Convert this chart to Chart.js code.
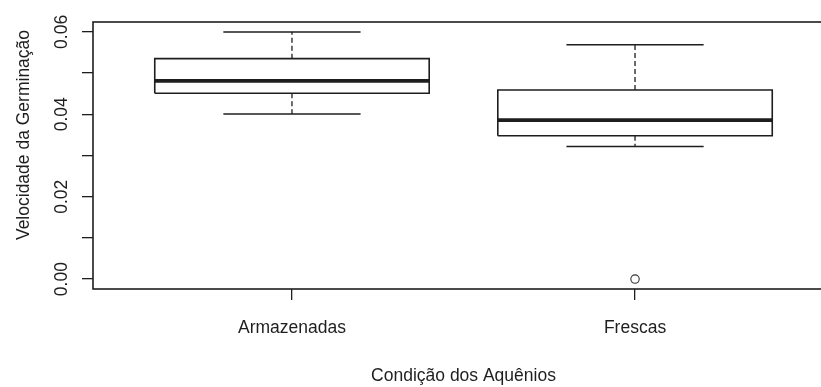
<!DOCTYPE html>
<html>
<head>
<meta charset="utf-8">
<script src="https://cdn.jsdelivr.net/npm/chart.js@4.4.1/dist/chart.umd.min.js"></script>
<style>
  html, body { margin: 0; padding: 0; background: #ffffff; overflow: hidden; }
  #wrap { width: 840px; height: 387px; }
</style>
</head>
<body>
<div id="wrap"><canvas id="c" width="840" height="387"></canvas></div>
<script>
// Germination speed by achene condition (box-and-whisker summary)
const categories = ['Armazenadas', 'Frescas'];
const lowerWhisker = [0.0401, 0.0322];
const q1 = [0.0451, 0.0348];
const median = [0.0481, 0.0386];
const q3 = [0.0535, 0.0459];
const upperWhisker = [0.0600, 0.0569];
const outliers = [[], [0.0]];

const yTickValues = [0, 0.01, 0.02, 0.03, 0.04, 0.05, 0.06];
const yTickLabels = ['0.00', '', '0.02', '', '0.04', '', '0.06'];

const xTitle = 'Condição dos Aquênios';
const yTitle = 'Velocidade da Germinação';

const INK = '#1e1e1e';
const FONT = "'Liberation Sans', Arial, sans-serif";
const FONT_SIZE = 17.5;
const BOX_HALF = 0.4;
const CAP_HALF = 0.2;

function seg(points, extra) {
  return Object.assign({
    data: points,
    showLine: true,
    borderColor: INK,
    borderWidth: 1.5,
    pointRadius: 0,
    pointHoverRadius: 0,
    tension: 0,
    fill: false,
    borderJoinStyle: 'miter',
    borderCapStyle: 'butt'
  }, extra || {});
}

const datasets = [];
categories.forEach((name, i) => {
  const x = i + 1;
  // whiskers (dashed) from box edges to extremes
  datasets.push(seg([{x: x, y: q3[i]}, {x: x, y: upperWhisker[i]}], {borderDash: [5, 3], borderWidth: 1.3}));
  datasets.push(seg([{x: x, y: q1[i]}, {x: x, y: lowerWhisker[i]}], {borderDash: [5, 3], borderWidth: 1.3}));
  // staples
  datasets.push(seg([{x: x - CAP_HALF, y: upperWhisker[i]}, {x: x + CAP_HALF, y: upperWhisker[i]}]));
  datasets.push(seg([{x: x - CAP_HALF, y: lowerWhisker[i]}, {x: x + CAP_HALF, y: lowerWhisker[i]}]));
  // box
  datasets.push(seg([
    {x: x - BOX_HALF, y: q1[i]}, {x: x + BOX_HALF, y: q1[i]},
    {x: x + BOX_HALF, y: q3[i]}, {x: x - BOX_HALF, y: q3[i]},
    {x: x - BOX_HALF, y: q1[i]}
  ], {borderWidth: 1.6}));
  // median
  datasets.push(seg([{x: x - BOX_HALF, y: median[i]}, {x: x + BOX_HALF, y: median[i]}], {borderWidth: 3.8}));
  // outlying points
  if (outliers[i].length) {
    datasets.push({
      data: outliers[i].map(v => ({x: x, y: v})),
      showLine: false,
      pointStyle: 'circle',
      pointRadius: 4.2,
      pointHoverRadius: 4.2,
      pointBorderWidth: 1.1,
      pointBorderColor: '#333333',
      pointBackgroundColor: 'rgba(0,0,0,0)'
    });
  }
});

// frame around the plotting region and rotated y-axis title
const framePlugin = {
  id: 'frame',
  afterDraw(chart) {
    const {ctx, chartArea: a} = chart;
    ctx.save();
    ctx.strokeStyle = INK;
    ctx.lineWidth = 1.6;
    ctx.strokeRect(a.left, a.top, a.right - a.left, a.bottom - a.top);
    ctx.fillStyle = INK;
    ctx.font = FONT_SIZE + 'px ' + FONT;
    ctx.textAlign = 'center';
    ctx.textBaseline = 'middle';
    ctx.translate(24, a.top + 113);
    ctx.rotate(-Math.PI / 2);
    ctx.fillText(yTitle, 0, 0);
    ctx.restore();
  }
};

new Chart(document.getElementById('c'), {
  type: 'scatter',
  data: { datasets: datasets },
  plugins: [framePlugin],
  options: {
    responsive: false,
    animation: false,
    events: [],
    layout: { padding: { left: 0, top: 22, right: 6, bottom: 0 } },
    plugins: { legend: { display: false }, tooltip: { enabled: false } },
    scales: {
      x: {
        type: 'linear',
        min: 0.42,
        max: 2.58,
        afterBuildTicks: s => { s.ticks = categories.map((c, i) => ({ value: i + 1 })); },
        afterFit: s => { s.height = 98; },
        border: { display: false },
        grid: { drawOnChartArea: false, drawTicks: true, tickLength: 11, color: INK, lineWidth: 1.3 },
        ticks: {
          autoSkip: false,
          maxRotation: 0,
          padding: 18,
          color: INK,
          font: { family: FONT, size: FONT_SIZE },
          callback: (v, i) => categories[i]
        },
        title: {
          display: true,
          text: xTitle,
          color: INK,
          font: { family: FONT, size: FONT_SIZE },
          padding: { top: 0, bottom: 0 }
        }
      },
      y: {
        type: 'linear',
        min: -0.0024,
        max: 0.0624,
        afterBuildTicks: s => { s.ticks = yTickValues.map(v => ({ value: v })); },
        afterFit: s => { s.width = 93; },
        border: { display: false },
        grid: { drawOnChartArea: false, drawTicks: true, tickLength: 11, color: INK, lineWidth: 1.3 },
        ticks: {
          autoSkip: false,
          minRotation: 90,
          maxRotation: 90,
          crossAlign: 'center',
          padding: 3,
          color: INK,
          font: { family: FONT, size: FONT_SIZE },
          callback: (v, i) => yTickLabels[i]
        }
      }
    }
  }
});
</script>
</body>
</html>
